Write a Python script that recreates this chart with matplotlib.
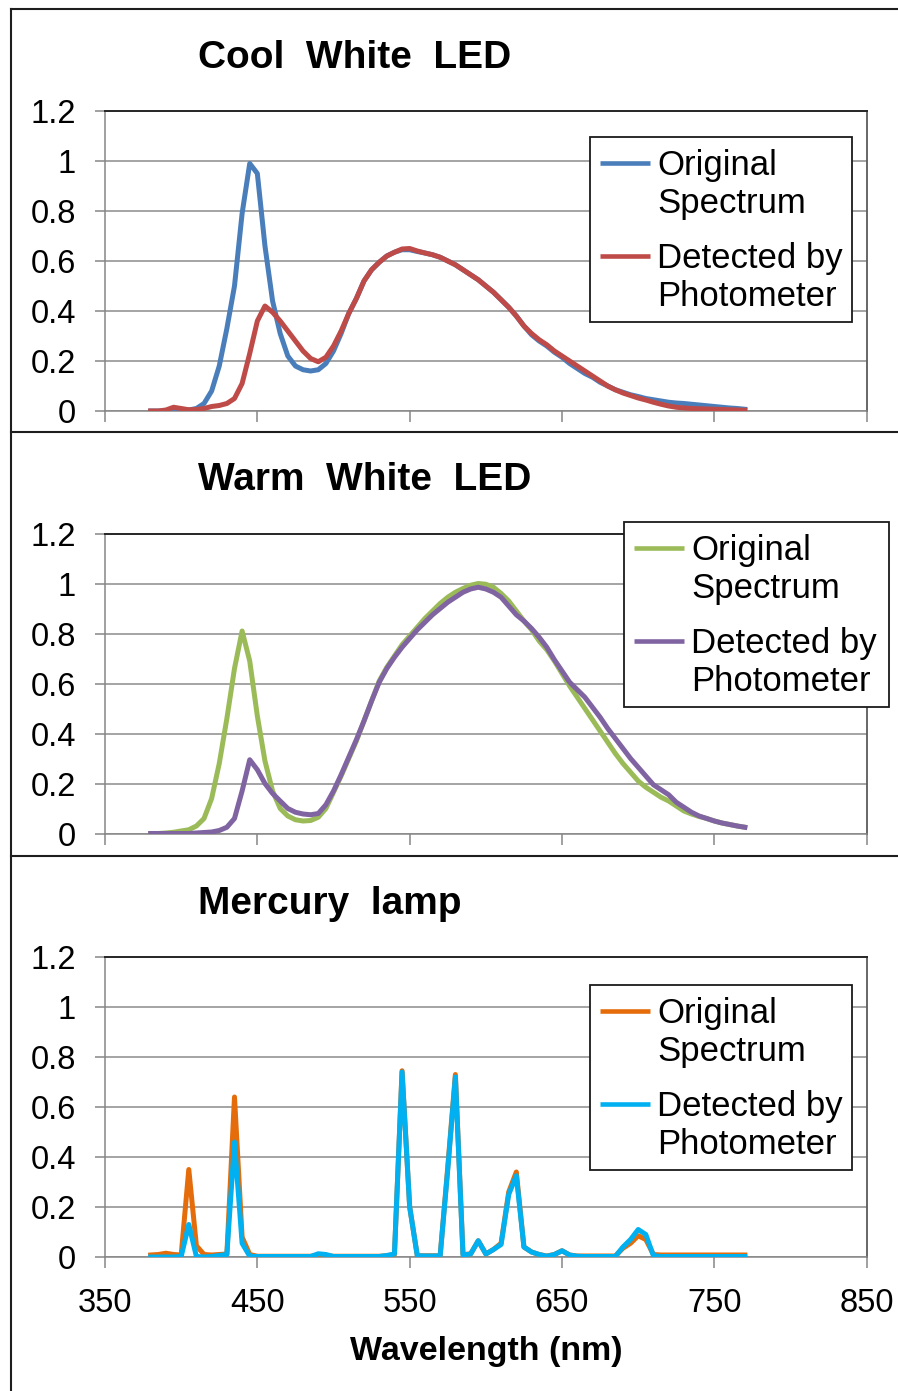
import matplotlib
matplotlib.use("Agg")
import matplotlib.pyplot as plt
from matplotlib.lines import Line2D
from matplotlib.patches import Rectangle

plt.rcParams['font.family'] = ['Liberation Sans', 'DejaVu Sans']

# ---------------------------------------------------------------- data
wavelength_nm = list(range(380, 775, 5))

cool_original = [
    0.0, 0.0, 0.0, 0.0, 0.002, 0.004, 0.01, 0.03, 0.08, 0.18,
    0.33, 0.50, 0.79, 0.99, 0.95, 0.66, 0.44, 0.31, 0.22, 0.18,
    0.165, 0.16, 0.165, 0.19, 0.24, 0.31, 0.39, 0.45, 0.52, 0.565,
    0.595, 0.62, 0.635, 0.645, 0.645, 0.638, 0.632, 0.625, 0.615, 0.60,
    0.585, 0.565, 0.545, 0.525, 0.50, 0.475, 0.445, 0.415, 0.38, 0.34,
    0.305, 0.28, 0.26, 0.235, 0.215, 0.19, 0.17, 0.15, 0.135, 0.115,
    0.10, 0.085, 0.075, 0.065, 0.058, 0.05, 0.045, 0.04, 0.035, 0.032,
    0.03, 0.027, 0.024, 0.021, 0.018, 0.015, 0.012, 0.01, 0.007,
]
cool_detected = [
    0.0, 0.0, 0.004, 0.015, 0.01, 0.005, 0.006, 0.01, 0.018, 0.022,
    0.03, 0.05, 0.11, 0.23, 0.36, 0.42, 0.395, 0.36, 0.32, 0.28,
    0.24, 0.21, 0.197, 0.215, 0.26, 0.32, 0.39, 0.45, 0.52, 0.565,
    0.595, 0.62, 0.635, 0.648, 0.65, 0.64, 0.632, 0.625, 0.615, 0.60,
    0.585, 0.565, 0.545, 0.525, 0.50, 0.475, 0.445, 0.415, 0.38, 0.34,
    0.31, 0.285, 0.265, 0.24, 0.22, 0.20, 0.18, 0.16, 0.14, 0.12,
    0.10, 0.085, 0.072, 0.062, 0.052, 0.044, 0.035, 0.027, 0.02, 0.015,
    0.012, 0.01, 0.009, 0.008, 0.007, 0.006, 0.005, 0.004, 0.003,
]
warm_original = [
    0.0, 0.0, 0.002, 0.005, 0.01, 0.015, 0.03, 0.06, 0.14, 0.28,
    0.46, 0.66, 0.81, 0.69, 0.47, 0.29, 0.17, 0.10, 0.07, 0.055,
    0.05, 0.052, 0.065, 0.10, 0.165, 0.23, 0.30, 0.37, 0.45, 0.53,
    0.61, 0.665, 0.71, 0.755, 0.79, 0.825, 0.86, 0.89, 0.92, 0.945,
    0.965, 0.98, 0.993, 1.0, 0.997, 0.985, 0.96, 0.93, 0.89, 0.85,
    0.815, 0.77, 0.735, 0.69, 0.64, 0.59, 0.545, 0.50, 0.455, 0.41,
    0.365, 0.32, 0.28, 0.245, 0.21, 0.185, 0.165, 0.145, 0.13, 0.11,
    0.09, 0.078, 0.068, 0.06, 0.05, 0.042, 0.036, 0.03, 0.025,
]
warm_detected = [
    0.0, 0.0, 0.0, 0.0, 0.0, 0.0, 0.002, 0.004, 0.006, 0.012,
    0.025, 0.06, 0.17, 0.295, 0.255, 0.20, 0.16, 0.13, 0.10, 0.085,
    0.078, 0.075, 0.08, 0.115, 0.17, 0.235, 0.305, 0.375, 0.45, 0.53,
    0.605, 0.66, 0.705, 0.745, 0.78, 0.815, 0.845, 0.875, 0.90, 0.925,
    0.945, 0.965, 0.978, 0.985, 0.978, 0.965, 0.945, 0.91, 0.875, 0.85,
    0.82, 0.785, 0.745, 0.695, 0.65, 0.605, 0.575, 0.545, 0.505, 0.465,
    0.42, 0.38, 0.34, 0.30, 0.265, 0.23, 0.195, 0.175, 0.155, 0.125,
    0.105, 0.085, 0.07, 0.06, 0.05, 0.042, 0.036, 0.03, 0.025,
]
mercury_original = [
    0.008, 0.01, 0.015, 0.01, 0.008, 0.35, 0.045, 0.01, 0.008, 0.01,
    0.012, 0.64, 0.08, 0.01, 0.003, 0.003, 0.003, 0.003, 0.003, 0.003,
    0.003, 0.003, 0.006, 0.005, 0.003, 0.003, 0.003, 0.003, 0.003, 0.003,
    0.003, 0.005, 0.01, 0.745, 0.20, 0.005, 0.005, 0.005, 0.005, 0.36,
    0.73, 0.01, 0.012, 0.065, 0.012, 0.03, 0.055, 0.26, 0.34, 0.04,
    0.02, 0.01, 0.004, 0.01, 0.025, 0.008, 0.004, 0.004, 0.004, 0.004,
    0.004, 0.004, 0.035, 0.055, 0.085, 0.07, 0.01, 0.008, 0.008, 0.008,
    0.008, 0.008, 0.008, 0.008, 0.008, 0.008, 0.008, 0.008, 0.008,
]
mercury_detected = [
    0.0, 0.0, 0.0, 0.0, 0.002, 0.13, 0.002, 0.0, 0.002, 0.006,
    0.01, 0.46, 0.055, 0.003, 0.002, 0.002, 0.002, 0.002, 0.002, 0.002,
    0.002, 0.002, 0.013, 0.01, 0.002, 0.002, 0.002, 0.002, 0.002, 0.002,
    0.002, 0.006, 0.012, 0.74, 0.20, 0.005, 0.004, 0.004, 0.004, 0.35,
    0.72, 0.008, 0.012, 0.065, 0.012, 0.03, 0.05, 0.25, 0.325, 0.04,
    0.02, 0.01, 0.003, 0.01, 0.025, 0.008, 0.003, 0.002, 0.002, 0.002,
    0.002, 0.002, 0.04, 0.07, 0.11, 0.09, 0.005, 0.002, 0.002, 0.002,
    0.002, 0.002, 0.002, 0.002, 0.002, 0.002, 0.002, 0.002, 0.002,
]

panel_titles = ["Cool  White  LED", "Warm  White  LED", "Mercury  lamp"]
legend_labels = [("Original", "Spectrum"), ("Detected by", "Photometer")]
x_ticks = [350, 450, 550, 650, 750, 850]
y_ticks = [0, 0.2, 0.4, 0.6, 0.8, 1.0, 1.2]
y_tick_labels = ["0", "0.2", "0.4", "0.6", "0.8", "1", "1.2"]
x_label = "Wavelength (nm)"

# ---------------------------------------------------------------- layout
W, H = 898, 1391
fig = plt.figure(figsize=(W / 100, H / 100), dpi=100)


def fx(px):
    return px / W


def fy(py):
    return 1 - py / H


AX_LEFT, AX_RIGHT = 105, 866.7
GRAY = '#868686'

panels = [
    dict(title=panel_titles[0], series=(cool_original, cool_detected),
         colors=('#4A7EBB', '#BE4B48'), plot_top=111, plot_bottom=411,
         title_base=68.5, legend=(590, 137, 262), xlabels=False),
    dict(title=panel_titles[1], series=(warm_original, warm_detected),
         colors=('#9BBB59', '#8064A2'), plot_top=533.5, plot_bottom=833.5,
         title_base=490.5, legend=(624.3, 522.3, 265), xlabels=False),
    dict(title=panel_titles[2], series=(mercury_original, mercury_detected),
         colors=('#E46C0A', '#00B0F0'), plot_top=957, plot_bottom=1257,
         title_base=914.5, legend=(590, 985, 262), xlabels=True),
]


def draw_legend(left, top, width, colors):
    height = 185
    fig.add_artist(Rectangle((fx(left), fy(top + height)), width / W, height / H,
                             transform=fig.transFigure, facecolor='white',
                             edgecolor='#1a1a1a', lw=1.3, zorder=5))
    for i, (color, (line1, line2)) in enumerate(zip(colors, legend_labels)):
        dy = i * 93
        fig.add_artist(Line2D([fx(left + 10), fx(left + 60)],
                              [fy(top + 26 + dy), fy(top + 26 + dy)],
                              transform=fig.transFigure, color=color, lw=3.3,
                              solid_capstyle='butt', zorder=6))
        fig.text(fx(left + 67), fy(top + 38 + dy), line1, fontsize=25,
                 ha='left', va='baseline', zorder=7)
        fig.text(fx(left + 67), fy(top + 76 + dy), line2, fontsize=25,
                 ha='left', va='baseline', zorder=7)


for p in panels:
    ax = fig.add_axes([fx(AX_LEFT), fy(p['plot_bottom']),
                       (AX_RIGHT - AX_LEFT) / W,
                       (p['plot_bottom'] - p['plot_top']) / H])
    orig, det = p['series']
    c_orig, c_det = p['colors']
    ax.plot(wavelength_nm, orig, color=c_orig, lw=3.6, zorder=3,
            solid_joinstyle='round')
    ax.plot(wavelength_nm, det, color=c_det, lw=3.6, zorder=4,
            solid_joinstyle='round')

    ax.set_xlim(350, 850)
    ax.set_ylim(0, 1.2)
    ax.set_xticks(x_ticks)
    ax.set_yticks(y_ticks)
    ax.set_yticklabels(y_tick_labels, fontsize=23.5)
    if p['xlabels']:
        ax.set_xticklabels([str(t) for t in x_ticks], fontsize=23.5)
        ax.set_xlabel(x_label, fontsize=24.5, fontweight='bold')
        ax.xaxis.set_label_coords(0.5, -(1360 - p['plot_bottom']) / 300)
        ax.xaxis.label.set_va('baseline')
    else:
        ax.set_xticklabels([])
    ax.tick_params(axis='y', length=7.5, width=1.1, color=GRAY, pad=13.5)
    ax.tick_params(axis='x', length=8, width=1.1, color=GRAY, pad=14)

    ax.grid(axis='y', color='#8c8c8c', lw=1.1)
    ax.grid(axis='x', visible=False)
    ax.set_axisbelow(True)
    for side in ('left', 'bottom'):
        ax.spines[side].set_color(GRAY)
        ax.spines[side].set_linewidth(1.1)
    ax.spines['top'].set_color('#262626')
    ax.spines['top'].set_linewidth(1.4)
    ax.spines['right'].set_color('#5a5a5a')
    ax.spines['right'].set_linewidth(1.3)

    fig.text(fx(198), fy(p['title_base']), p['title'], fontsize=28,
             fontweight='bold', ha='left', va='baseline')
    draw_legend(*p['legend'], p['colors'])

# panel frames
frame = dict(transform=fig.transFigure, color='#1e1e1e', lw=1.5, zorder=10)
for y in (9, 432, 855.5):
    fig.add_artist(Line2D([fx(11), 1.0], [fy(y), fy(y)], **frame))
fig.add_artist(Line2D([fx(11), fx(11)], [fy(9), 0.0], **frame))

fig.savefig('out.png', dpi=100, facecolor='white')
